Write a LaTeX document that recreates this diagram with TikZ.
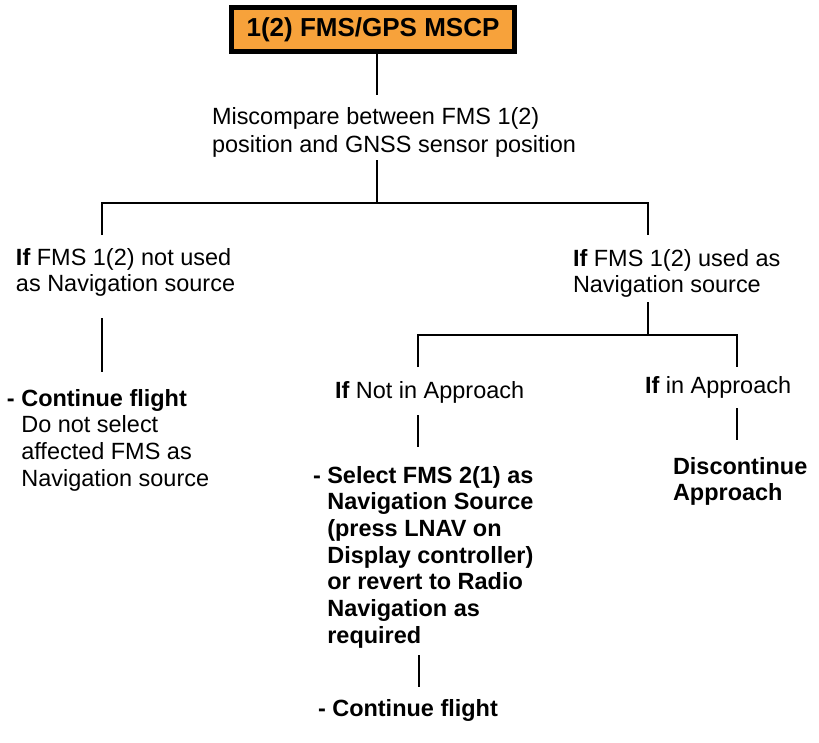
\documentclass[tikz,border=0pt]{standalone}
\usepackage{fontspec}
\setmainfont{Liberation Sans}
\usetikzlibrary{calc}
\definecolor{boxorange}{HTML}{F7A23B}
\tikzset{
  txt/.style={inner sep=0pt, outer sep=0pt, font=\fontsize{17.6}{20}\selectfont, align=left},
  btxt/.style={txt, font=\fontsize{17.6}{20}\selectfont\bfseries},
  wire/.style={line width=1.5pt},
  titlebox/.style={draw=black, line width=3.4pt, fill=boxorange, minimum width=212.5pt, minimum height=33.3pt, inner sep=0pt, font=\fontsize{19.5}{22}\selectfont\bfseries}
}
\begin{document}
\begin{tikzpicture}[x=0.75pt,y=-0.75pt]
\useasboundingbox (0,0) rectangle (819,743);
\node[titlebox] (box) at (373,29.5) {1(2) FMS/GPS MSCP};
\node[txt, anchor=north west, font=\fontsize{17.6}{21}\selectfont] (mis) at (212,107) {Miscompare between FMS 1(2)\\position and GNSS sensor position};
\node[txt, anchor=north west] (lft) at (16,248) {\textbf{If} FMS 1(2) not used\\as Navigation source};
\node[txt, anchor=north west] (rgt) at (573,249) {\textbf{If} FMS 1(2) used as\\Navigation source};
\node[txt, anchor=north west] (lcont) at (7,389) {\textbf{- Continue flight}\\\hphantom{- }Do not select\\\hphantom{- }affected FMS as\\\hphantom{- }Navigation source};
\node[txt, anchor=north west] (notapp) at (335,381) {\textbf{If} Not in Approach};
\node[txt, anchor=north west] (inapp) at (645,376) {\textbf{If} in Approach};
\node[btxt, anchor=north west] (sel) at (313,466) {- Select FMS 2(1) as\\\hphantom{- }Navigation Source\\\hphantom{- }(press LNAV on\\\hphantom{- }Display controller)\\\hphantom{- }or revert to Radio\\\hphantom{- }Navigation as\\\hphantom{- }required};
\node[btxt, anchor=north west] (cont2) at (318,699) {- Continue flight};
\node[btxt, anchor=north west, font=\fontsize{17.6}{19.5}\selectfont\bfseries] (disc) at (673,457) {Discontinue\\Approach};
% junctions and ends
\coordinate (top1) at (377,95);
\coordinate (mid1) at (377,160);
\coordinate (busL) at (102,203);
\coordinate (busM) at (377,203);
\coordinate (busR) at (648,203);
\coordinate (dropL) at (102,235);
\coordinate (dropR) at (648,235);
\coordinate (lA) at (102,318);
\coordinate (lB) at (102,372);
\coordinate (rA) at (648,302);
\coordinate (bus2L) at (418,335);
\coordinate (bus2M) at (648,335);
\coordinate (bus2R) at (737,335);
\coordinate (drop2L) at (418,367);
\coordinate (drop2R) at (737,367);
\coordinate (nA) at (418,415);
\coordinate (nB) at (418,447);
\coordinate (iA) at (737,408);
\coordinate (iB) at (737,440);
\coordinate (sA) at (419,655);
\coordinate (sB) at (419,687);
% connectors
\draw[wire] (box.south -| top1) -- (top1);
\draw[wire] (mid1) -- (busM);
\draw[wire] (dropL) -- (busL) -- (busR) -- (dropR);
\draw[wire] (lA) -- (lB);
\draw[wire] (rA) -- (bus2M);
\draw[wire] (drop2L) -- (bus2L) -- (bus2R) -- (drop2R);
\draw[wire] (nA) -- (nB);
\draw[wire] (iA) -- (iB);
\draw[wire] (sA) -- (sB);
\end{tikzpicture}
\end{document}
